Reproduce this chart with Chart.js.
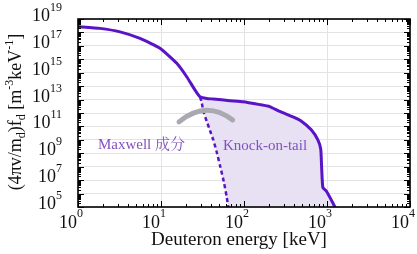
<!DOCTYPE html>
<html>
<head>
<meta charset="utf-8">
<script src="https://cdn.jsdelivr.net/npm/chart.js@4.4.0/dist/chart.umd.min.js"></script>
<style>
  html, body { margin: 0; padding: 0; background: #fff; }
  #grafico { width: 417px; height: 254px; position: relative; }
</style>
</head>
<body>
<div id="grafico"><canvas id="lienzo"></canvas></div>
<script>
// Datos (energia en keV)
const energiaTotal = [1, 1.84, 3.21, 5.58, 9.73, 15.5, 20.4, 25.7, 29.5, 35.5, 42.7, 67.6, 97.7, 155, 204, 269, 389, 479, 646, 776, 841, 861, 891, 977, 1259, 1413]
const flujoTotal = [2.7e18, 2.0e18, 1.1e18, 3.6e17, 6.6e16, 5.0e15, 5.0e14, 5.1e13, 1.6e13, 1.2e13, 1.1e13, 8.3e12, 6.9e12, 4.2e12, 3.0e12, 1.3e12, 5.2e11, 2.8e11, 5.6e10, 1.0e10, 2.0e9, 1.0e8, 2.8e6, 1.6e6, 8.9e4, 2.0e4]

const energiaMaxwell = [29.5, 30.9, 32.4, 35.5, 38.9, 42.7, 46.8, 51.3, 57.5, 61.7, 64.6, 67.6]
const flujoMaxwell = [1.6e13, 6.3e12, 1.3e12, 2.5e11, 5.0e10, 9.8e9, 1.3e9, 1.3e8, 6.3e6, 6.3e5, 1.0e5, 2.5e4]

const ticksX = [1, 10, 100, 1000, 10000]
const exponentesX = ['0', '1', '2', '3', '4']
const ticksY = [1e5, 1e7, 1e9, 1e11, 1e13, 1e15, 1e17, 1e19]
const exponentesY = ['5', '7', '9', '11', '13', '15', '17', '19']

const colorLinea = '#5a14c8'
const colorRelleno = '#e7e1f3'
const colorTexto = '#8352c0'
const colorFlecha = '#a9a9b2'
const fuente = "'Liberation Serif', 'DejaVu Serif', serif"

// Puntos de la linea
const puntosTotal = energiaTotal.map((e, i) => ({ x: e, y: flujoTotal[i] }))
const puntosMaxwell = energiaMaxwell.map((e, i) => ({ x: e, y: flujoMaxwell[i] }))

// Region knock-on: curva total desde la rodilla y vuelta por la Maxwell
const inicioCola = energiaTotal.indexOf(energiaMaxwell[0])
const puntosCola = puntosTotal.slice(inicioCola).concat(puntosMaxwell.slice(1).reverse())

function decadas(min, max) {
    const lista = []
    for (let v = min; v <= max * 1.001; v *= 10) lista.push({ value: v })
    return lista
}

function marcasLog(min, max) {
    const lista = []
    for (let d = min; d < max * 0.999; d *= 10) {
        for (let m = 1; m < 10; m++) lista.push({ v: m * d, mayor: m === 1 })
    }
    lista.push({ v: max, mayor: true })
    return lista
}

const decoraciones = {
    id: 'decoraciones',
    afterDatasetsDraw(chart) {
        const { ctx, scales: { x, y } } = chart
        ctx.save()
        // Flecha gris
        ctx.strokeStyle = colorFlecha
        ctx.lineWidth = 5
        ctx.lineCap = 'round'
        ctx.beginPath()
        ctx.moveTo(x.getPixelForValue(16.5), y.getPixelForValue(2.2e11))
        ctx.quadraticCurveTo(x.getPixelForValue(34.7), y.getPixelForValue(1.0e13),
            x.getPixelForValue(73), y.getPixelForValue(3.0e11))
        ctx.stroke()

        // Textos
        ctx.fillStyle = colorTexto
        ctx.font = "15px 'Liberation Serif', 'Noto Serif CJK JP', 'Noto Sans CJK JP', serif"
        ctx.textBaseline = 'middle'
        ctx.textAlign = 'left'
        ctx.fillText('Maxwell 成分', x.getPixelForValue(1.74), y.getPixelForValue(4.2e9))
        ctx.fillText('Knock-on-tail', x.getPixelForValue(55.8), y.getPixelForValue(3.5e9))
        ctx.restore()
    },
    afterDraw(chart) {
        const { ctx, chartArea: a, scales: { x, y } } = chart
        ctx.save()

        // Marcas hacia adentro en los cuatro lados
        ctx.strokeStyle = '#000'
        ctx.lineWidth = 1
        ctx.beginPath()
        marcasLog(x.min, x.max).forEach(m => {
            const px = Math.round(x.getPixelForValue(m.v)) + 0.5
            const l = m.mayor ? 6 : 3
            ctx.moveTo(px, a.bottom); ctx.lineTo(px, a.bottom - l)
            ctx.moveTo(px, a.top); ctx.lineTo(px, a.top + l)
        })
        marcasLog(y.min, y.max).forEach(m => {
            const py = Math.round(y.getPixelForValue(m.v)) + 0.5
            const l = m.mayor ? 6 : 3
            ctx.moveTo(a.left, py); ctx.lineTo(a.left + l, py)
            ctx.moveTo(a.right, py); ctx.lineTo(a.right - l, py)
        })
        ctx.stroke()

        // Marco
        ctx.lineWidth = 1.6
        ctx.strokeRect(a.left, a.top, a.right - a.left, a.bottom - a.top)

        // Etiquetas con potencias
        ctx.fillStyle = '#111'
        ctx.textBaseline = 'alphabetic'
        ticksX.forEach((v, i) => {
            const px = x.getPixelForValue(v)
            ctx.font = '18px ' + fuente
            ctx.textAlign = 'right'
            ctx.fillText('10', px - 1, 228)
            ctx.font = '12px ' + fuente
            ctx.textAlign = 'left'
            ctx.fillText(exponentesX[i], px - 1, 217)
        })
        ticksY.forEach((v, i) => {
            const py = y.getPixelForValue(v)
            ctx.font = '12px ' + fuente
            ctx.textAlign = 'right'
            const anchoExp = ctx.measureText(exponentesY[i]).width
            ctx.fillText(exponentesY[i], 62, py - 8)
            ctx.font = '18px ' + fuente
            ctx.fillText('10', 62 - anchoExp, py + 2)
        })

        // Titulo eje x
        ctx.font = '19px ' + fuente
        ctx.textAlign = 'center'
        ctx.fillText('Deuteron energy [keV]', 239, 245)

        // Titulo eje y (rotado, con sub y superindices)
        const piezas = [
            ['(4πv/m', 0], ['d', 1], [')f', 0], ['d', 1], [' [m', 0],
            ['-3', -1], ['keV', 0], ['-1', -1], [']', 0]
        ]
        const fuentePieza = p => (p[1] === 0 ? '18px ' : '12px ') + fuente
        let total = 0
        piezas.forEach(p => { ctx.font = fuentePieza(p); total += ctx.measureText(p[0]).width })
        ctx.translate(21, 112)
        ctx.rotate(-Math.PI / 2)
        ctx.textAlign = 'left'
        let cursor = -total / 2
        piezas.forEach(p => {
            ctx.font = fuentePieza(p)
            const dy = p[1] === 1 ? 4 : (p[1] === -1 ? -8 : 0)
            ctx.fillText(p[0], cursor, dy)
            cursor += ctx.measureText(p[0]).width
        })
        ctx.restore()
    }
}

const contexto = document.getElementById('lienzo').getContext('2d')
const grafico = new Chart(contexto, {
    type: 'line',
    data: {
        datasets: [
            {
                label: 'Total',
                data: puntosTotal,
                borderColor: colorLinea,
                borderWidth: 3,
                pointRadius: 0,
                tension: 0.15,
                fill: false,
                order: 1
            },
            {
                label: 'Maxwell',
                data: puntosMaxwell,
                borderColor: colorLinea,
                borderWidth: 2.5,
                borderDash: [4, 3],
                pointRadius: 0,
                tension: 0.15,
                fill: false,
                order: 2
            },
            {
                label: 'Knock-on',
                data: puntosCola,
                borderWidth: 0,
                borderColor: 'rgba(0,0,0,0)',
                backgroundColor: colorRelleno,
                pointRadius: 0,
                tension: 0.15,
                fill: 'shape',
                order: 3
            }
        ]
    },
    options: {
        responsive: true,
        maintainAspectRatio: false,
        animation: false,
        layout: { padding: { left: 78, top: 19, right: 7, bottom: 47 } },
        plugins: {
            legend: { display: false },
            tooltip: { enabled: false }
        },
        scales: {
            x: {
                type: 'logarithmic',
                min: 1,
                max: 1e4,
                afterBuildTicks: s => { s.ticks = decadas(1, 1e4) },
                ticks: { display: false },
                grid: { color: '#e3e3e3', lineWidth: 1, drawTicks: false },
                border: { display: false }
            },
            y: {
                type: 'logarithmic',
                min: 1e5,
                max: 1e19,
                afterBuildTicks: s => { s.ticks = decadas(1e5, 1e19) },
                ticks: { display: false },
                grid: { color: '#e3e3e3', lineWidth: 1, drawTicks: false },
                border: { display: false }
            }
        }
    },
    plugins: [decoraciones]
})
</script>
</body>
</html>
